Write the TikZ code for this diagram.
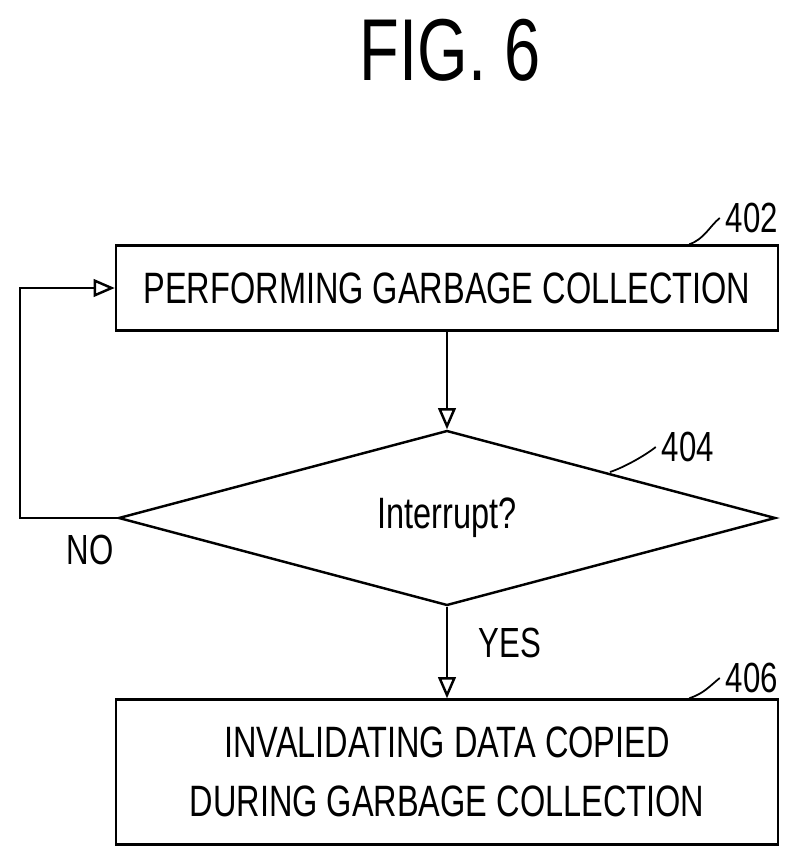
\documentclass[tikz,border=0pt]{standalone}
\usepackage{fontspec}
\setmainfont{Liberation Sans}
\newfontfamily\narrowfont[FakeStretch=0.74]{Liberation Sans}
\usetikzlibrary{shapes.geometric,arrows.meta}
\tikzset{
  procbox/.style={draw,line width=1.4pt,minimum width=662*0.02cm,align=center,font=\narrowfont\fontsize{25}{34}\selectfont},
  flow/.style={line width=1.4pt,-{Triangle[open,length=12pt,width=10pt]}},
  tag/.style={font=\narrowfont\fontsize{24}{28}\selectfont},
  lead/.style={line width=1pt}
}
\begin{document}
\begin{tikzpicture}[x=0.02cm,y=-0.02cm]
	\useasboundingbox (0,0) rectangle (802,867);
	
	\node[font=\narrowfont\fontsize{50}{55}\selectfont] (title) at (450,50) {FIG. 6};
	
	\node[procbox,minimum height=85*0.02cm] (gc) at (447,288) {PERFORMING GARBAGE COLLECTION};
	\node[draw,line width=1.4pt,diamond,minimum width=657*0.02cm,minimum height=175*0.02cm,inner sep=0pt,aspect=3.75,
		font=\narrowfont\fontsize{25}{30}\selectfont] (irq) at (447,518) {Interrupt?};
	\node[procbox,minimum height=145*0.02cm] (inv) at (447,772) {INVALIDATING DATA COPIED\\DURING GARBAGE COLLECTION};
	
	% reference numerals
	\node[tag] (n402) at (752,218) {402};
	\node[tag] (n404) at (688,447) {404};
	\node[tag] (n406) at (752,678) {406};
	\draw[lead] (gc.north east)++(-90,0) .. controls +(15,-5) and +(-10,8) .. (n402.west);
	\draw[lead] (610,472) .. controls +(15,-5) and +(-10,8) .. (n404.west);
	\draw[lead] (inv.north east)++(-90,0) .. controls +(15,-5) and +(-10,8) .. (n406.west);
	
	% connectors
	\draw[flow] (gc.south) -- (irq.north);
	\draw[flow] (irq.south) -- (inv.north) node[pos=0.4,right=14pt,tag] (yes) {YES};
	\coordinate (loop) at (20,0);
	\draw[flow] (irq.west) -- (irq.west -| loop) -- (gc.west -| loop) -- (gc.west);
	\node[tag] (no) at (90,550) {NO};
\end{tikzpicture}
\end{document}
